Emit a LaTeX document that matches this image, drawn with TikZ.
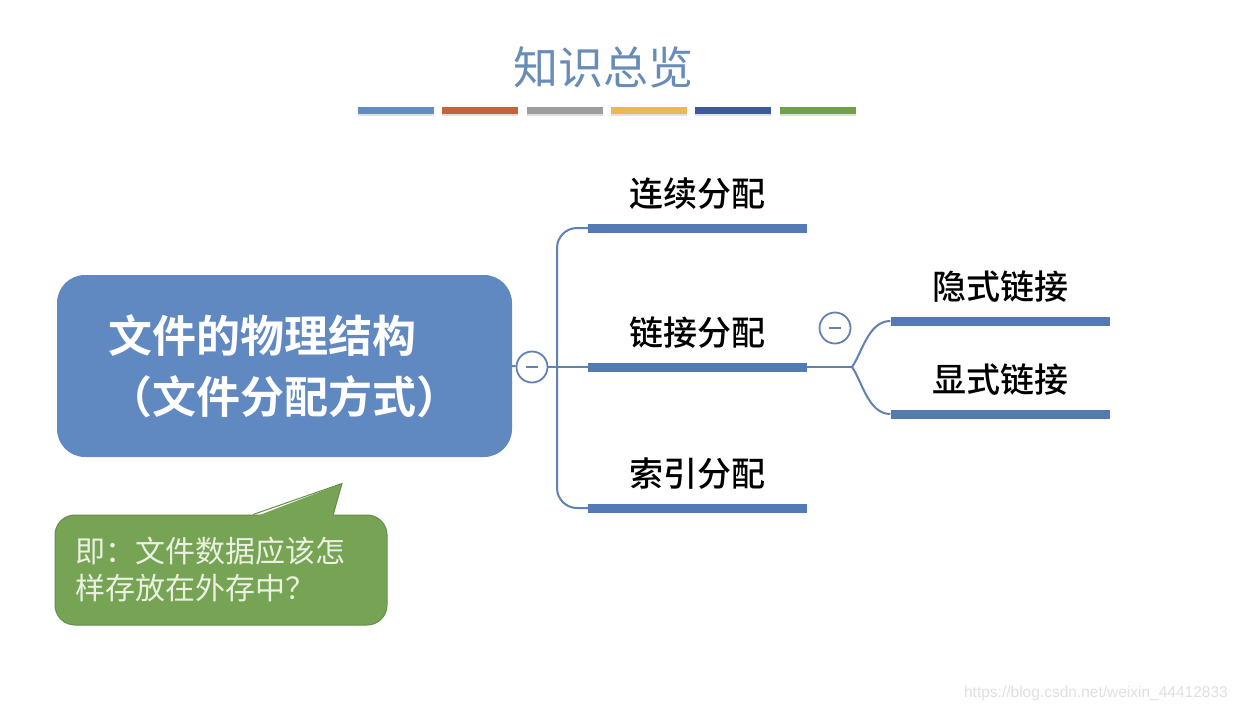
\documentclass[tikz,border=0pt]{standalone}
\usepackage{fontspec}
\setmainfont{Noto Sans CJK SC}[BoldFont={Noto Sans CJK SC Bold}]
\newfontfamily\medfont{Noto Sans CJK SC Medium}
\newfontfamily\urlfont{Liberation Sans}
\usetikzlibrary{positioning}
\definecolor{titleblue}{RGB}{104,140,182}
\definecolor{rootblue}{RGB}{96,136,193}
\definecolor{barblue}{RGB}{84,122,180}
\definecolor{lineblue}{RGB}{98,128,178}
\definecolor{notegreen}{RGB}{118,164,84}
\definecolor{noteedge}{RGB}{98,142,70}
\definecolor{notetext}{RGB}{234,241,226}
\definecolor{strip1}{RGB}{100,140,192}
\definecolor{strip2}{RGB}{196,98,60}
\definecolor{strip3}{RGB}{158,158,158}
\definecolor{strip4}{RGB}{233,186,82}
\definecolor{strip5}{RGB}{60,90,160}
\definecolor{strip6}{RGB}{112,160,75}
\tikzset{
  bar/.style={fill=barblue, minimum width=219pt, minimum height=9pt, inner sep=0pt},
  twig/.style={draw=lineblue, line width=2pt},
  fold/.style={circle, draw=lineblue, line width=1.8pt, fill=white, minimum size=31pt, inner sep=0pt,
    path picture={\draw[lineblue, line width=2pt] ([xshift=-6pt]path picture bounding box.center) -- ([xshift=6pt]path picture bounding box.center);}},
  lbl/.style={font=\medfont\fontsize{34}{40}\selectfont, inner sep=0pt, above=14pt of #1},
}
\begin{document}
\begin{tikzpicture}[x=1pt,y=-1pt]
\useasboundingbox[fill=white] (0,0) rectangle (1238,712);
\node[font=\fontsize{45}{50}\selectfont, text=titleblue] (title) at (603,67) {知识总览};
\foreach \c [count=\i] in {strip1,strip2,strip3,strip4,strip5,strip6} {
  \fill[black!12] ({358+84.3*(\i-1)},109) rectangle +(76,7);
  \fill[\c] ({358+84.3*(\i-1)},107) rectangle +(76,7);
}
\node[fill=rootblue, rounded corners=28pt, minimum width=455pt, minimum height=182pt, text=white,
  align=left, font=\bfseries\fontsize{44}{61}\selectfont] (root) at (284.5,366) {文件的物理结构\\（文件分配方式）};
\node[fold] (f1) at (532,367) {};
\coordinate (hub) at (557,367);
\node[bar] (b1) at (697.5,228) {};
\node[bar] (b2) at (697.5,367) {};
\node[bar] (b3) at (697.5,508) {};
\node[lbl=b1] (l1) {连续分配};
\node[lbl=b2] (l2) {链接分配};
\node[lbl=b3] (l3) {索引分配};
\draw[twig] (root.east) -- (f1);
\draw[twig] (f1) -- (b2.west);
\draw[twig, rounded corners=20pt] (b1.west) -| (hub) |- (b3.west);
\coordinate (fork) at (852,367);
\node[bar] (b4) at (1000,321) {};
\node[bar] (b5) at (1000,414) {};
\node[lbl=b4] (l4) {隐式链接};
\node[lbl=b5] (l5) {显式链接};
\draw[twig] (b2.east) -- (fork);
\draw[twig] (fork) .. controls +(10,-14) and +(-22,0) .. (b4.west);
\draw[twig] (fork) .. controls +(10,14) and +(-22,0) .. (b5.west);
\node[fold] (f2) at (835,328) {};
\node[fill=notegreen, draw=noteedge, line width=1pt, rounded corners=20pt, minimum width=332pt, minimum height=110pt,
  text width=292pt, align=left, text=notetext, font=\fontsize{30}{37}\selectfont] (note) at (221,570) {即：文件数据应该怎\\样存放在外存中？};
\fill[notegreen] ([xshift=32pt,yshift=-3pt]note.north) -- ([xshift=121pt,yshift=31pt]note.north) -- ([xshift=112pt,yshift=-3pt]note.north) -- cycle;
\draw[noteedge, line width=1pt] ([xshift=32pt]note.north) -- ([xshift=121pt,yshift=31pt]note.north) -- ([xshift=112pt]note.north);
\node[font=\urlfont\fontsize{15.5}{18}\selectfont, text=black!12, anchor=east, inner sep=0pt] (wm) at (1228,693) {https://blog.csdn.net/weixin\_44412833};
\end{tikzpicture}
\end{document}
